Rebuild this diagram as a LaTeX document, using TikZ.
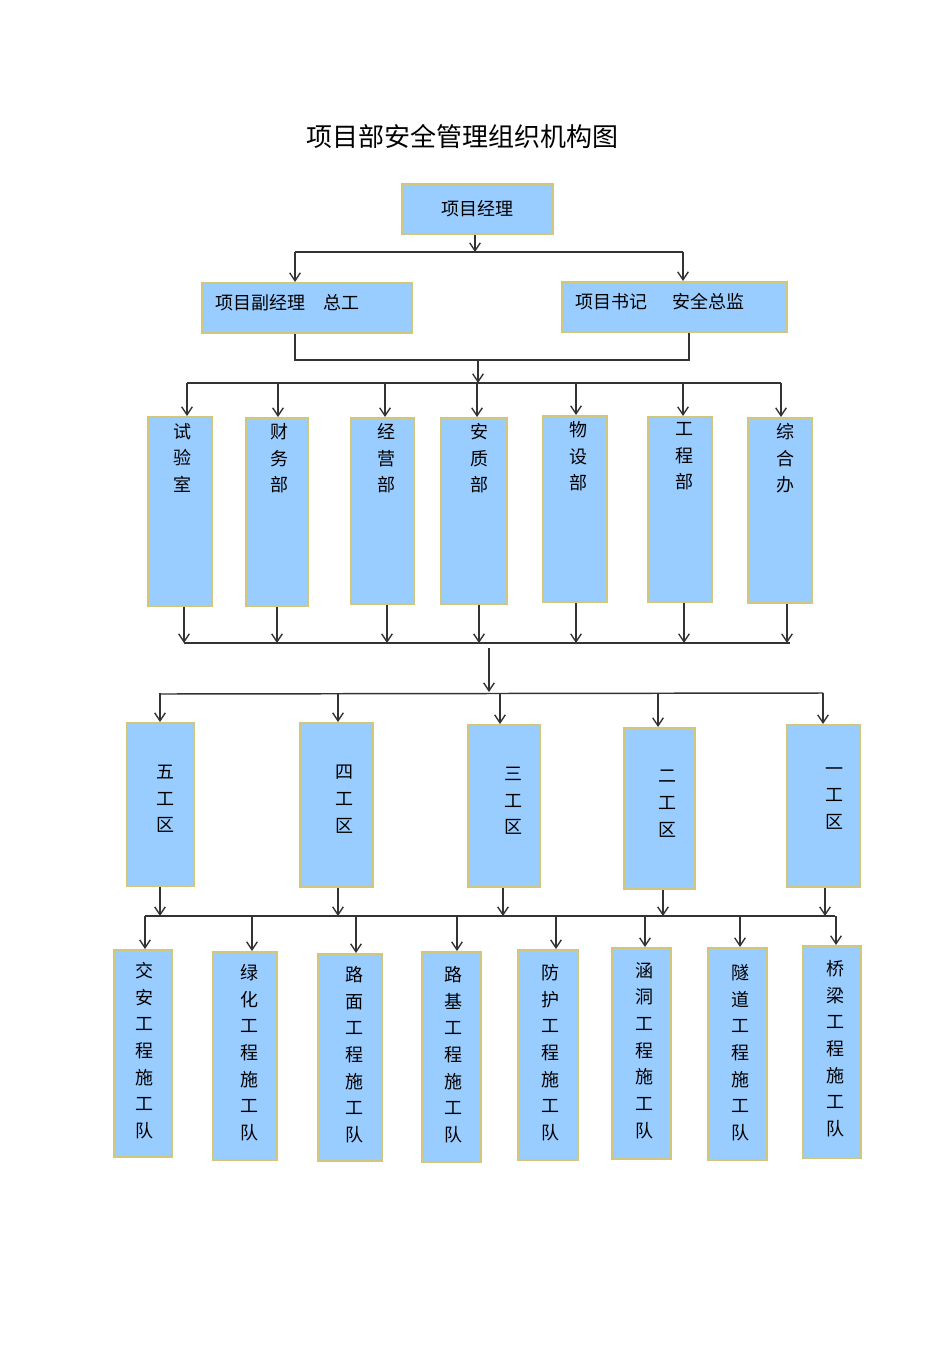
\documentclass[tikz,border=0pt]{standalone}
\usepackage{fontspec}
\setmainfont{Noto Sans CJK SC}
\usetikzlibrary{arrows.meta}
\definecolor{boxfill}{HTML}{99CCFF}
\definecolor{boxline}{HTML}{D2C67A}
\definecolor{ln}{HTML}{333333}
\tikzset{
  box/.style={draw=boxline,fill=boxfill,line width=1.5pt,inner sep=0pt},
  txt/.style={font=\fontsize{13.5}{20}\selectfont,align=center,inner sep=0pt,anchor=north},
  wire/.style={draw=ln,line width=1.1pt},
  arr/.style={wire,-{Straight Barb[length=6pt,width=8pt,line width=1pt]}}
}
\newcommand{\bxn}[5]{\node[box,minimum width={(#4-#2)*0.75pt},minimum height={(#5-#3)*0.75pt}] (#1) at ({(#2+#4)/2},{(#3+#5)/2}) {};}
\begin{document}
\begin{tikzpicture}[x=0.75pt,y=-0.75pt]
\useasboundingbox (0,0) rectangle (950,1346);
\node[font=\fontsize{19.5}{22}\selectfont,inner sep=0pt] (title) at (462,136) {项目部安全管理组织机构图};
% row 1-2
\bxn{pm}{402}{184}{553}{234}
\node[txt,anchor=center] (tpm) at (pm) {项目经理};
\bxn{vp}{202}{283}{412}{333}
\node[txt,anchor=west] (tvp) at (215,303) {项目副经理\hspace{1em}总工};
\bxn{sj}{562}{282}{787}{332}
\node[txt,anchor=west] (tsj) at (575,302) {项目书记\hspace{1.4em}安全总监};
% row 3
\bxn{d1}{148}{417}{212}{606}
\bxn{d2}{246}{418}{308}{606}
\bxn{d3}{351}{418}{414}{604}
\bxn{d4}{441}{418}{507}{604}
\bxn{d5}{543}{416}{607}{602}
\bxn{d6}{648}{417}{712}{602}
\bxn{d7}{748}{418}{812}{603}
\node[txt] (t1) at (182,423) {试\\验\\室};
\node[txt] (t2) at (279,423) {财\\务\\部};
\node[txt] (t3) at (386,423) {经\\营\\部};
\node[txt] (t4) at (479,423) {安\\质\\部};
\node[txt] (t5) at (578,421) {物\\设\\部};
\node[txt] (t6) at (684,422) {工\\程\\部};
\node[txt] (t7) at (785,423) {综\\合\\办};
% row 4
\bxn{w5}{127}{723}{194}{886}
\bxn{w4}{300}{723}{373}{887}
\bxn{w3}{468}{725}{540}{887}
\bxn{w2}{624}{728}{695}{889}
\bxn{w1}{787}{725}{860}{887}
\node[txt] (u5) at (165,765) {五\\工\\区};
\node[txt] (u4) at (344,765) {四\\工\\区};
\node[txt] (u3) at (513,767) {三\\工\\区};
\node[txt] (u2) at (667,770) {二\\工\\区};
\node[txt] (u1) at (834,767) {一\\工\\区};
% row 5
\bxn{e1}{114}{950}{172}{1157}
\bxn{e2}{213}{952}{277}{1160}
\bxn{e3}{318}{954}{382}{1161}
\bxn{e4}{422}{952}{481}{1162}
\bxn{e5}{518}{950}{578}{1160}
\bxn{e6}{612}{948}{671}{1159}
\bxn{e7}{708}{948}{767}{1160}
\bxn{e8}{803}{946}{861}{1158}
\node[txt] (v1) at (144,962) {交\\安\\工\\程\\施\\工\\队};
\node[txt] (v2) at (249,964) {绿\\化\\工\\程\\施\\工\\队};
\node[txt] (v3) at (354,966) {路\\面\\工\\程\\施\\工\\队};
\node[txt] (v4) at (453,966) {路\\基\\工\\程\\施\\工\\队};
\node[txt] (v5) at (550,964) {防\\护\\工\\程\\施\\工\\队};
\node[txt] (v6) at (644,962) {涵\\洞\\工\\程\\施\\工\\队};
\node[txt] (v7) at (740,964) {隧\\道\\工\\程\\施\\工\\队};
\node[txt] (v8) at (835,960) {桥\\梁\\工\\程\\施\\工\\队};
% connectors level 1
\coordinate (b1) at (475,252);
\draw[arr] (pm.south -| b1) -- (b1);
\draw[wire] (295,252) -- (683,252);
\draw[arr] (295,252) -- (295,0 |- vp.north);
\draw[arr] (683,252) -- (683,0 |- sj.north);
% level 2
\draw[wire] (295,0 |- vp.south) -- (295,360) -- (689,360) -- (689,0 |- sj.south);
\coordinate (b2) at (478,383);
\draw[arr] (478,360) -- (b2);
\draw[wire] (187,383) -- (781,383);
\foreach \x/\n in {187/d1,278/d2,385/d3,477/d4,576/d5,683/d6,781/d7}
  \draw[arr] (\x,383) -- (\x,0 |- \n.north);
% level 3 bottom
\foreach \x/\n in {184/d1,277/d2,387/d3,479/d4,576/d5,684/d6,787/d7}
  \draw[arr] (\x,0 |- \n.south) -- (\x,643);
\draw[wire] (184,643) -- (790,643);
\coordinate (b3) at (489,692);
\draw[arr] (489,648) -- (b3);
\draw[wire] (160,694) -- (823,693);
\foreach \x/\n in {160/w5,338/w4,500/w3,658/w2,823/w1}
  \draw[arr] (\x,693) -- (\x,0 |- \n.north);
% level 4 bottom
\foreach \x/\n in {160/w5,338/w4,503/w3,663/w2,825/w1}
  \draw[arr] (\x,0 |- \n.south) -- (\x,916);
\draw[wire] (145,916) -- (835,916);
\foreach \x/\n in {145/e1,252/e2,356/e3,457/e4,556/e5,645/e6,740/e7,836/e8}
  \draw[arr] (\x,916) -- (\x,0 |- \n.north);
\end{tikzpicture}
\end{document}
